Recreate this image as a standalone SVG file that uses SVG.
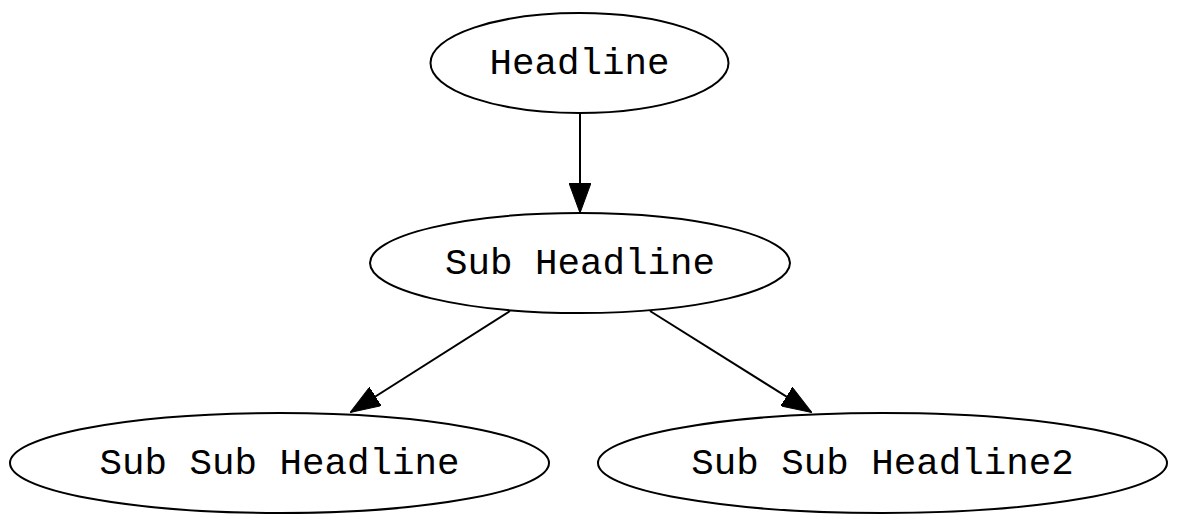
<svg xmlns="http://www.w3.org/2000/svg" width="1182" height="518" viewBox="0 0 1182 518">
<defs>
<marker id="arr" markerWidth="30" markerHeight="22" refX="29" refY="11" orient="auto" markerUnits="userSpaceOnUse" viewBox="0 0 30 22">
<path d="M0,0 L30,11 L0,22 Z" fill="#000" stroke="#000" stroke-width="1"/>
</marker>
</defs>
<style>
.n ellipse{fill:none;stroke:#000;stroke-width:2}
.n text{font-family:"Liberation Mono","Courier New",monospace;font-size:37.5px;fill:#000;text-anchor:middle}
.e line{stroke:#000;stroke-width:2;marker-end:url(#arr)}
</style>
<rect width="1182" height="518" fill="#fff"/>
<g id="edges" class="e">
<line x1="580" y1="113" x2="580" y2="212"/>
<line x1="510" y1="311" x2="351" y2="412"/>
<line x1="650" y1="311" x2="811" y2="412"/>
</g>
<g id="headline" class="n">
<ellipse cx="579.5" cy="63" rx="149" ry="50"/>
<text x="579.5" y="74">Headline</text>
</g>
<g id="sub_headline" class="n">
<ellipse cx="580" cy="263" rx="210" ry="50"/>
<text x="580" y="274">Sub Headline</text>
</g>
<g id="sub_sub_headline" class="n">
<ellipse cx="279.5" cy="463" rx="269.5" ry="50"/>
<text x="279.5" y="474">Sub Sub Headline</text>
</g>
<g id="sub_sub_headline2" class="n">
<ellipse cx="882.5" cy="463" rx="284.5" ry="50"/>
<text x="882.5" y="474">Sub Sub Headline2</text>
</g>
</svg>
